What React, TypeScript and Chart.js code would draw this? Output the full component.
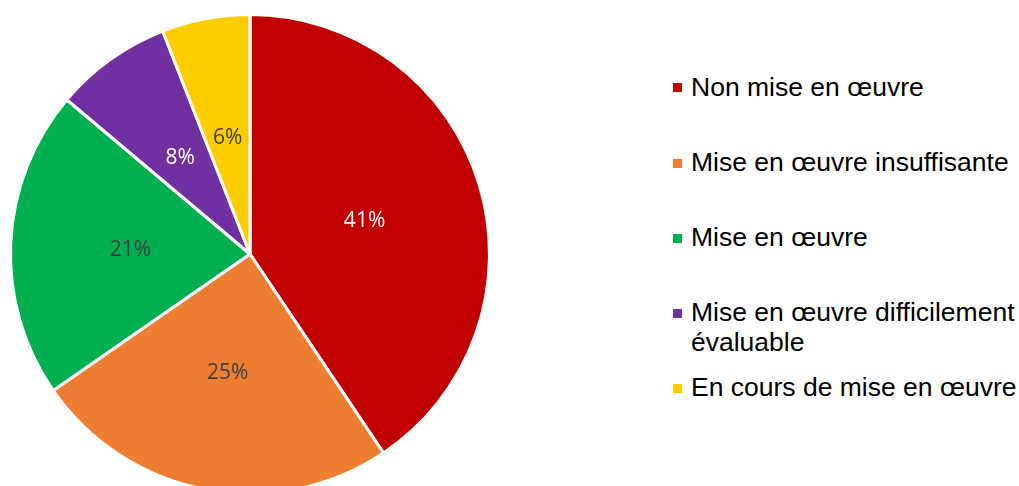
import React, { useEffect, useRef } from "react";
import { Chart, registerables } from "chart.js";

Chart.register(...registerables);

const categories = [
  "Non mise en œuvre",
  "Mise en œuvre insuffisante",
  "Mise en œuvre",
  "Mise en œuvre difficilement évaluable",
  "En cours de mise en œuvre",
];
const legendLines = [
  ["Non mise en œuvre"],
  ["Mise en œuvre insuffisante"],
  ["Mise en œuvre"],
  ["Mise en œuvre difficilement", "évaluable"],
  ["En cours de mise en œuvre"],
];
const values = [41, 25, 21, 8, 6];
const colors = ["#C00000", "#ED7D31", "#00B050", "#7030A0", "#FFCC00"];
const labelColors = ["#FFFFFF", "#404040", "#404040", "#FFFFFF", "#404040"];

const pctPlugin = {
  id: "pctLabels",
  afterDatasetsDraw(chart: any) {
    const ctx = chart.ctx;
    const meta = chart.getDatasetMeta(0);
    const data = chart.data.datasets[0].data as number[];
    const total = data.reduce((a, b) => a + b, 0);
    ctx.save();
    ctx.font = '21px "Open Sans", sans-serif';
    ctx.textAlign = "center";
    ctx.textBaseline = "middle";
    meta.data.forEach((arc: any, i: number) => {
      const p = arc.tooltipPosition();
      ctx.fillStyle = labelColors[i];
      ctx.fillText(Math.round((data[i] / total) * 100) + "%", p.x, p.y + 1.5);
    });
    ctx.restore();
  },
};

export default function App() {
  const ref = useRef<HTMLCanvasElement | null>(null);
  useEffect(() => {
    if (!ref.current) return;
    const chart = new Chart(ref.current, {
      type: "pie",
      data: {
        labels: categories,
        datasets: [
          {
            data: values,
            backgroundColor: colors,
            borderColor: "#FFFFFF",
            borderWidth: 3,
          },
        ],
      },
      options: {
        animation: false,
        responsive: false,
        maintainAspectRatio: false,
        layout: { padding: { left: 9, right: 9, top: 13, bottom: 13 } },
        plugins: {
          legend: { display: false },
          tooltip: { enabled: false },
        },
      },
      plugins: [pctPlugin],
    });
    return () => chart.destroy();
  }, []);

  const baselines = [96, 171.7, 246.7, 321.7, 396.7];

  return (
    <div
      style={{
        position: "fixed",
        left: 0,
        top: 0,
        width: 1019,
        height: 486,
        background: "#fff",
        overflow: "hidden",
      }}
    >
      <canvas
        ref={ref}
        width={500}
        height={508}
        style={{ position: "absolute", left: 0, top: 0, width: 500, height: 508 }}
      />
      {legendLines.map((lines, i) => (
        <div key={i}>
          <div
            style={{
              position: "absolute",
              left: 673,
              top: baselines[i] - 13,
              width: 9,
              height: 9,
              background: colors[i],
            }}
          />
          <div
            style={{
              position: "absolute",
              left: 691,
              top: baselines[i] - 24.4,
              fontFamily: '"Liberation Sans", Arial, sans-serif',
              fontSize: 26.5,
              lineHeight: "30px",
              color: "#000",
              whiteSpace: "nowrap",
            }}
          >
            {lines.map((l, j) => (
              <div key={j}>{l}</div>
            ))}
          </div>
        </div>
      ))}
    </div>
  );
}
